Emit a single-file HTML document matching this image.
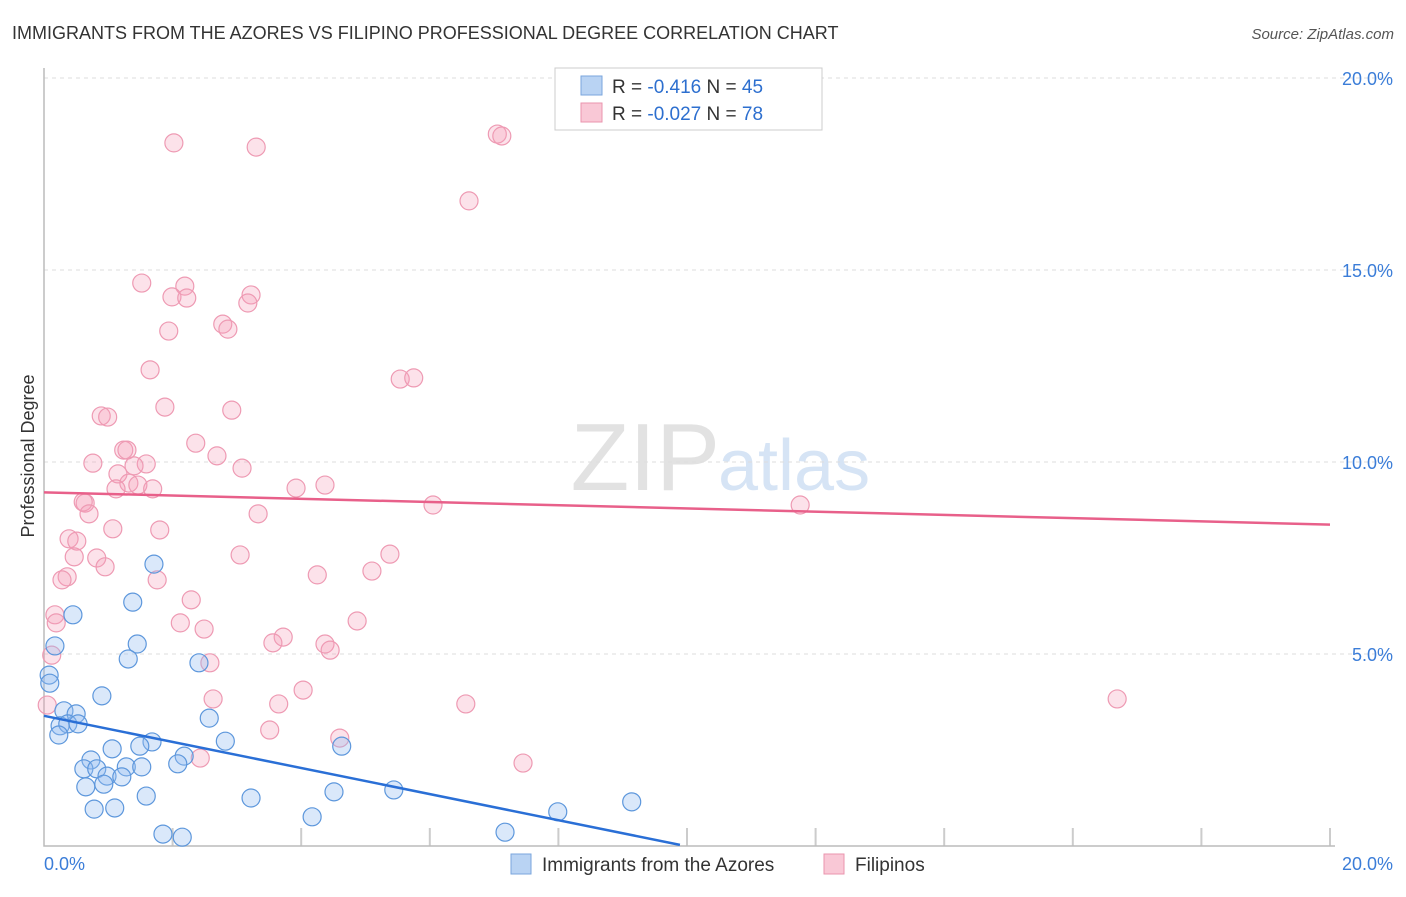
<!DOCTYPE html>
<html><head><meta charset="utf-8"><style>
body{margin:0;background:#fff;font-family:"Liberation Sans",sans-serif;}
svg text{font-family:"Liberation Sans",sans-serif;}
</style></head><body>
<svg id="chart" width="1406" height="892">
<text x="12" y="39" font-size="18" fill="#333">IMMIGRANTS FROM THE AZORES VS FILIPINO PROFESSIONAL DEGREE CORRELATION CHART</text>
<text x="1394" y="39" font-size="15" fill="#555" font-style="italic" text-anchor="end">Source: ZipAtlas.com</text>
<text x="720" y="490" font-size="96" fill="#e2e2e2" text-anchor="end" font-family="Liberation Serif">ZIP</text>
<text x="718" y="490" font-size="72" fill="#d6e4f5">atlas</text>
<text transform="translate(34,456) rotate(-90)" font-size="18" fill="#333" text-anchor="middle">Professional Degree</text>
<g id="grid"></g><g id="pts"></g><g id="lines"></g>
<g>
<rect x="555" y="68" width="267" height="62" fill="#fff" stroke="#ccc"/>
<rect x="581" y="76" width="21" height="19" fill="#b9d3f3" stroke="#7aa6dd"/>
<rect x="581" y="103" width="21" height="19" fill="#f9c8d6" stroke="#ea94ae"/>
<text x="612" y="93" font-size="19" fill="#333">R = <tspan fill="#2d6fcf">-0.416</tspan>   N = <tspan fill="#2d6fcf">45</tspan></text>
<text x="612" y="120" font-size="19" fill="#333">R = <tspan fill="#2d6fcf">-0.027</tspan>   N = <tspan fill="#2d6fcf">78</tspan></text>
</g>
<text x="44" y="870" font-size="18" fill="#3b7dd8">0.0%</text>
<text x="1393" y="870" font-size="18" fill="#3b7dd8" text-anchor="end">20.0%</text>
<rect x="511" y="854" width="20" height="20" fill="#b9d3f3" stroke="#7aa6dd"/>
<text x="542" y="871" font-size="19" fill="#333">Immigrants from the Azores</text>
<rect x="824" y="854" width="20" height="20" fill="#f9c8d6" stroke="#ea94ae"/>
<text x="855" y="871" font-size="19" fill="#333">Filipinos</text>
</svg>
<script>
const yTicks=[5,10,15,20];
const yTickLabels=["5.0%","10.0%","15.0%","20.0%"];
const xTicks=[2,4,6,8,10,12,14,16,18,20];
const azoresX=[1.71,0.45,1.38,1.45,1.31,2.41,0.17,0.08,0.09,0.90,0.31,0.50,0.25,0.37,0.53,2.57,0.23,1.68,1.06,1.49,0.73,2.18,4.63,2.82,0.62,0.82,1.28,1.52,2.08,0.98,1.21,0.65,0.93,1.59,0.78,1.10,3.22,4.51,5.44,9.14,7.99,4.17,1.85,2.15,7.17];
const azoresY=[7.34,6.02,6.35,5.26,4.87,4.77,5.21,4.45,4.24,3.91,3.52,3.44,3.13,3.18,3.18,3.33,2.89,2.71,2.53,2.60,2.24,2.34,2.60,2.73,2.01,2.01,2.06,2.06,2.14,1.82,1.80,1.54,1.61,1.30,0.96,0.99,1.25,1.41,1.46,1.15,0.89,0.76,0.31,0.23,0.36];
const filX=[2.02,3.30,7.05,7.12,6.61,1.52,2.19,1.99,2.22,3.22,3.17,1.94,2.78,2.86,1.65,5.54,5.75,1.88,2.92,0.89,0.99,1.24,1.29,2.36,2.69,0.76,1.59,1.40,3.08,1.15,1.32,1.46,1.69,1.12,3.92,4.37,0.64,0.61,0.70,3.33,6.05,11.76,1.07,1.80,0.39,0.51,0.82,0.47,0.95,3.05,5.38,5.10,4.25,0.36,0.28,1.76,0.17,2.29,2.12,4.87,2.49,0.19,3.72,3.56,4.37,4.45,0.12,2.58,4.03,2.63,16.69,3.65,6.56,0.05,3.51,4.60,2.43,7.45];
const filY=[18.31,18.20,18.54,18.49,16.80,14.66,14.58,14.30,14.27,14.35,14.14,13.41,13.59,13.46,12.40,12.16,12.19,11.43,11.35,11.20,11.17,10.31,10.31,10.49,10.16,9.97,9.95,9.90,9.84,9.69,9.45,9.40,9.30,9.30,9.32,9.40,8.93,8.96,8.65,8.65,8.88,8.88,8.26,8.23,8.00,7.94,7.50,7.53,7.27,7.58,7.60,7.16,7.06,7.01,6.93,6.93,6.02,6.41,5.81,5.86,5.65,5.81,5.44,5.29,5.26,5.10,4.97,4.77,4.06,3.83,3.83,3.70,3.70,3.67,3.02,2.81,2.29,2.16];
const azTrend=[[0,3.39],[9.89,0.03]];
const filTrend=[[0,9.21],[20,8.37]];
const X=v=>44+v*64.3, Y=v=>846-v*38.4;
const NS="http://www.w3.org/2000/svg";
function mk(t,a,p){const e=document.createElementNS(NS,t);for(const k in a)e.setAttribute(k,a[k]);p.appendChild(e);return e;}
const grid=document.getElementById('grid'),pts=document.getElementById('pts'),lines=document.getElementById('lines');
yTicks.forEach((v,i)=>{
 const l=mk('line',{x1:44,x2:1394,y1:Y(v),y2:Y(v),stroke:'#ddd','stroke-dasharray':'4,4'},grid);
 
 
 const t=mk('text',{x:1393,y:Y(v)+7,'font-size':18,fill:'#3b7dd8','text-anchor':'end'},grid);
 t.textContent=yTickLabels[i];
 
 
});
xTicks.forEach(v=>{
 const l=mk('line',{x1:X(v),x2:X(v),y1:828,y2:846,stroke:'#ccc','stroke-width':2},grid);
 
 
});
const ax=mk('path',{d:'M44,68 V846 H1335',fill:'none',stroke:'#bbb','stroke-width':1.5},grid);


filX.forEach((v,i)=>{
 const c=mk('circle',{cx:X(v),cy:Y(filY[i]),r:9,fill:'rgba(244,160,185,0.3)',stroke:'#ee9ab3','stroke-width':1.2},pts);
 
 
});
azoresX.forEach((v,i)=>{
 const c=mk('circle',{cx:X(v),cy:Y(azoresY[i]),r:9,fill:'rgba(150,190,240,0.35)',stroke:'#5d97dc','stroke-width':1.2},pts);
 
 
});
const l1=mk('line',{x1:X(filTrend[0][0]),y1:Y(filTrend[0][1]),x2:X(filTrend[1][0]),y2:Y(filTrend[1][1]),stroke:'#e8608a','stroke-width':2.5},lines);


const l2=mk('line',{x1:X(azTrend[0][0]),y1:Y(azTrend[0][1]),x2:X(azTrend[1][0]),y2:Y(azTrend[1][1]),stroke:'#2a6fd6','stroke-width':2.5},lines);


</script>
</body></html>
